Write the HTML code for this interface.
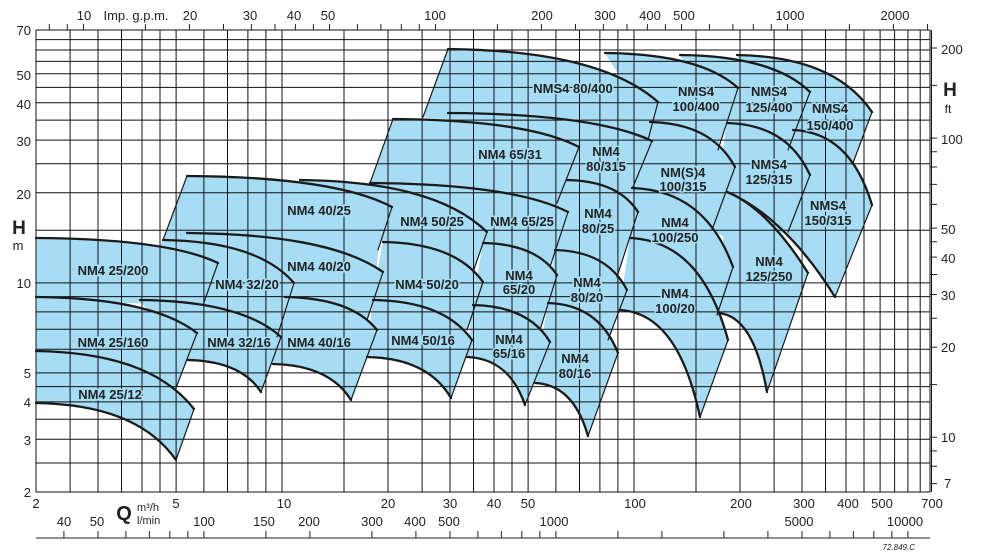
<!DOCTYPE html>
<html><head><meta charset="utf-8">
<style>
html,body{margin:0;padding:0;background:#fff;}
svg{display:block;}
text{font-family:"Liberation Sans",sans-serif;fill:#222;}
.lb{font-weight:bold;font-size:13px;text-anchor:middle;fill:#1a1a1a;paint-order:stroke;stroke:#a6dcf4;stroke-width:3px;}
.ax{font-size:13px;fill:#333;}
</style></head>
<body>
<svg id="s" width="994" height="554" viewBox="0 0 994 554" xmlns="http://www.w3.org/2000/svg">
<rect width="994" height="554" fill="#fff"/>
<g id="fills"></g>
<g id="grid" stroke="#111" stroke-width="1" fill="none"></g>
<g id="curves" fill="none" stroke="#1a1a1a" stroke-linecap="round"></g>
<g id="ticks" stroke="#222" stroke-width="1"></g>

<g class="ax" text-anchor="end">
<text x="31" y="35">70</text><text x="31" y="80">50</text><text x="31" y="109">40</text>
<text x="31" y="146">30</text><text x="31" y="199">20</text><text x="31" y="288">10</text>
<text x="31" y="378">5</text><text x="31" y="407">4</text><text x="31" y="445">3</text><text x="31" y="497">2</text>
</g>
<text x="19" y="234" style="font-weight:bold;font-size:19px" text-anchor="middle">H</text>
<text x="18" y="250" style="font-size:13px" text-anchor="middle">m</text>
<g class="ax" text-anchor="start">
<text x="941" y="54">200</text><text x="941" y="144">100</text><text x="941" y="234">50</text>
<text x="941" y="263">40</text><text x="941" y="300">30</text><text x="941" y="352">20</text>
<text x="941" y="442">10</text><text x="944" y="488">7</text>
</g>
<text x="950" y="96" style="font-weight:bold;font-size:19px" text-anchor="middle">H</text>
<text x="948" y="113" style="font-size:12px" text-anchor="middle">ft</text>
<g class="ax" text-anchor="middle">
<text x="36" y="508">2</text><text x="176" y="508">5</text><text x="284" y="508">10</text>
<text x="388" y="508">20</text><text x="450" y="508">30</text><text x="494" y="508">40</text>
<text x="528" y="508">50</text><text x="635" y="508">100</text><text x="741" y="508">200</text>
<text x="804" y="508">300</text><text x="848" y="508">400</text><text x="882" y="508">500</text><text x="932" y="508">700</text>
</g>
<text x="124" y="520" style="font-weight:bold;font-size:20px" text-anchor="middle">Q</text>
<text x="137" y="511" style="font-size:11px">m³/h</text>
<text x="137" y="524" style="font-size:11px">l/min</text>
<g class="ax" text-anchor="middle">
<text x="64" y="526">40</text><text x="97" y="526">50</text><text x="204" y="526">100</text>
<text x="264" y="526">150</text><text x="309" y="526">200</text><text x="372" y="526">300</text>
<text x="415" y="526">400</text><text x="449" y="526">500</text><text x="554" y="526">1000</text>
<text x="799" y="526">5000</text><text x="905" y="526">10000</text>
</g>
<text x="915" y="550" style="font-size:8px;font-style:italic" text-anchor="end">72.849.C</text>
<g class="ax" text-anchor="middle">
<text x="84" y="20">10</text><text x="136" y="20">Imp. g.p.m.</text><text x="190" y="20">20</text>
<text x="250" y="20">30</text><text x="294" y="20">40</text><text x="328" y="20">50</text>
<text x="435" y="20">100</text><text x="542" y="20">200</text><text x="605" y="20">300</text>
<text x="650" y="20">400</text><text x="684" y="20">500</text><text x="790" y="20">1000</text><text x="895" y="20">2000</text>
</g>

<g class="lb">
<text x="113" y="275">NM4 25/200</text>
<text x="247" y="289">NM4 32/20</text>
<text x="319" y="215">NM4 40/25</text>
<text x="319" y="271">NM4 40/20</text>
<text x="113" y="347">NM4 25/160</text>
<text x="239" y="347">NM4 32/16</text>
<text x="319" y="347">NM4 40/16</text>
<text x="110" y="399">NM4 25/12</text>
<text x="432" y="226">NM4 50/25</text>
<text x="427" y="289">NM4 50/20</text>
<text x="423" y="345">NM4 50/16</text>
<text x="522" y="226">NM4 65/25</text>
<text x="519" y="280">NM4</text><text x="519" y="294">65/20</text>
<text x="509" y="344">NM4</text><text x="509" y="358">65/16</text>
<text x="575" y="363">NM4</text><text x="575" y="378">80/16</text>
<text x="587" y="287">NM4</text><text x="587" y="302">80/20</text>
<text x="598" y="218">NM4</text><text x="598" y="233">80/25</text>
<text x="510" y="159">NM4 65/31</text>
<text x="606" y="156">NM4</text><text x="606" y="171">80/315</text>
<text x="573" y="93">NMS4 80/400</text>
<text x="696" y="96">NMS4</text><text x="696" y="111">100/400</text>
<text x="769" y="96">NMS4</text><text x="769" y="112">125/400</text>
<text x="830" y="113">NMS4</text><text x="830" y="130">150/400</text>
<text x="683" y="177">NM(S)4</text><text x="683" y="191">100/315</text>
<text x="769" y="169">NMS4</text><text x="769" y="184">125/315</text>
<text x="828" y="210">NMS4</text><text x="828" y="225">150/315</text>
<text x="675" y="227">NM4</text><text x="675" y="242">100/250</text>
<text x="769" y="266">NM4</text><text x="769" y="281">125/250</text>
<text x="675" y="298">NM4</text><text x="675" y="313">100/20</text>
</g>

<script>
(function(){
var NS="http://www.w3.org/2000/svg";
function X(q){return 36+352*Math.log10(q/2);}
function Y(h){return 492-299.2*Math.log10(h/2);}
function el(p,tag,a){var e=document.createElementNS(NS,tag);for(var k in a)e.setAttribute(k,a[k]);p.appendChild(e);return e;}
var grid=document.getElementById('grid'),fills=document.getElementById('fills'),
 curves=document.getElementById('curves'),ticks=document.getElementById('ticks');
var d="";
[2,2.5,3,3.5,4,4.5,5,6,7,8,9,10,15,20,25,30,35,40,45,50,60,70,80,90,100,150,200,250,300,350,400,450,500,550,600,650,700].forEach(function(q){var x=X(q).toFixed(1);d+="M"+x+" 30V492";});
[2,2.5,3,3.5,4,4.5,5,6,7,8,9,10,15,20,25,30,35,40,45,50,55,60,65,70].forEach(function(h){var y=Y(h).toFixed(1);d+="M36 "+y+"H930";});
d+="M930 30V492";
el(grid,'path',{d:d});
var t="";
[8,9,10,15,20,25,30,35,40,45,50,60,70,80,90,100,150,200,250,300,350,400,450,500,600,700,800,900,1000,1500,2000,2500].forEach(function(g){var x=X(g*0.2728);if(x>=35&&x<=931)t+="M"+x.toFixed(1)+" 24V30";});
[7,8,9,10,15,20,25,30,35,40,45,50,60,70,80,90,100,150,200].forEach(function(f){var y=Y(f*0.3048);t+="M930 "+y.toFixed(1)+"H937";});
[40,50,60,70,80,90,100,150,200,300,400,500,600,700,800,900,1000,1500,2000,3000,4000,5000,6000,7000,8000,9000,10000].forEach(function(l){var x=X(l*0.06);t+="M"+x.toFixed(1)+" 531V538";});
t+="M36 538H930";
el(ticks,'path',{d:t});

var DK=[0.45,0.02,0.8,0.3];
function cp(a,b,k){k=k||DK;var dx=b[0]-a[0],dy=b[1]-a[1];
 return [[a[0]+k[0]*dx,a[1]+k[1]*dy],[a[0]+k[2]*dx,a[1]+k[3]*dy]];}
function P(p){return p[0].toFixed(1)+" "+p[1].toFixed(1);}
function seg(a,b,k){var c=cp(a,b,k);return "C"+P(c[0])+" "+P(c[1])+" "+P(b);}
function rseg(a,b,k){var c=cp(a,b,k);return "C"+P(c[1])+" "+P(c[0])+" "+P(a);}
var K2=[0.35,0.15,0.7,0.5];
var S=[
{t:[[36,238],[218,263]],r:[[203,305]],l:[[36,300]]},
{t:[[36,297],[197,333]],r:[[176,388]],l:[[36,355]]},
{t:[[36,351],[194,409]],b:[[36,403],[176,460]]},
{t:[[163,240],[294,283]],r:[[277,337]],l:[[140,300]]},
{t:[[140,300],[281,337]],b:[[188,360],[261,392]]},
{t:[[187,176],[392,207]],r:[[378,250]],l:[[373,300],[285,297],[163,240]],le:1},
{t:[[187,233],[383,272]],r:[[367,320]],l:[[285,297]]},
{t:[[285,297],[377,330]],b:[[273,364],[351,400]]},
{t:[[300,180],[487,232]],r:[[473,272]],l:[[383,242]]},
{t:[[383,242],[483,282]],r:[[467,330]],l:[[373,300]]},
{t:[[373,300],[472,340]],b:[[367,357],[451,398]]},
{t:[[393,119],[579,147]],r:[[557,203]],l:[[370,183]],le:1},
{t:[[370,183],[568,212]],r:[[550,267]],l:[[483,243]]},
{t:[[483,243],[557,275]],r:[[540,330]],l:[[473,305]]},
{t:[[473,305],[550,342]],b:[[467,357],[525,405]]},
{t:[[448,49],[658,102]],r:[[648,140]],l:[[423,117]],le:1},
{t:[[448,113],[652,141]],r:[[633,187]],l:[[620,240],[560,240]]},
{t:[[567,180],[638,212]],r:[[617,277]],l:[[555,250]]},
{t:[[555,250],[627,290]],r:[[608,340]],l:[[548,303]]},
{t:[[548,303],[618,353]],b:[[535,383],[588,436]]},
{t:[[605,53],[738,88]],r:[[718,150]],l:[[650,122]]},
{t:[[650,122],[735,167]],r:[[712,230]],l:[[632,188]]},
{t:[[632,188],[733,267]],r:[[717,315]],l:[[630,238]]},
{t:[[630,238],[728,340]],b:[[620,310],[700,417]]},
{t:[[680,55],[810,92]],r:[[788,150]],l:[[727,123]]},
{t:[[727,123],[810,175]],r:[[788,232]],l:[[730,240],[712,230]]},
{t:[[727,192],[808,273]],b:[[718,313],[767,392]],k:[0.33,0.13,0.68,0.48]},
{t:[[737,55],[872,112]],r:[[853,163]],l:[[830,200],[793,130]]},
{t:[[793,130],[872,205]],b:[[727,192],[835,297]],bk:K2}
];
var thick="",thin="";
S.forEach(function(s){
 var a=s.t[0],b=s.t[1];
 var d="M"+P(a)+seg(a,b,s.k);
 if(s.b){d+="L"+P(s.b[1])+rseg(s.b[0],s.b[1],s.bk);}
 else{s.r.forEach(function(p){d+="L"+P(p);});s.l.forEach(function(p){d+="L"+P(p);});}
 d+="Z";
 el(fills,'path',{d:d,fill:"#a6dcf4",stroke:"#a6dcf4","stroke-width":"0.6"});
 thick+="M"+P(a)+seg(a,b,s.k);
 if(s.b){thick+="M"+P(s.b[0])+seg(s.b[0],s.b[1],s.bk);thin+="M"+P(b)+"L"+P(s.b[1]);}
 else{thin+="M"+P(b)+"L"+P(s.r[0]);}
 if(s.le){thin+="M"+P(a)+"L"+P(s.l[s.l.length-1]);}
});
el(curves,'path',{d:thick,"stroke-width":"2.3"});
el(curves,'path',{d:thin,"stroke-width":"1.2"});
})();
</script>
</svg>
</body></html>
